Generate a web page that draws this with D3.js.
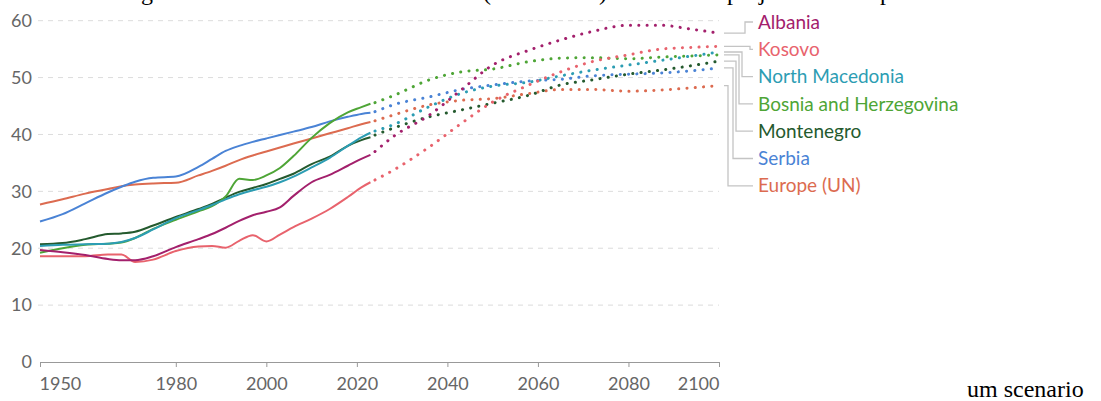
<!DOCTYPE html>
<html><head><meta charset="utf-8">
<script src="https://cdn.jsdelivr.net/npm/d3@7"></script>
<style>
html,body{margin:0;padding:0;background:#fff;}
svg{display:block;}
</style></head>
<body>
<svg id="chart" width="1101" height="401"></svg>
<script>
// ---------- DATA ----------
const seriesNames = ["Albania","Kosovo","North Macedonia","Bosnia and Herzegovina","Montenegro","Serbia","Europe (UN)"];
const histYears = [1950,1955,1960,1965,1968,1971,1975,1980,1985,1988,1991,1994,1997,2000,2003,2006,2010,2014,2018,2021,2023];
const projYears = [2024,2028,2036,2043,2050,2058,2065,2072,2080,2087,2094,2100];

const albaniaHist    = [19.7,19.3,18.8,18.1,17.9,17.9,18.6,20.2,21.6,22.5,23.6,24.8,25.8,26.4,27.2,29.2,31.6,32.9,34.5,35.7,36.4];
const kosovoHist     = [18.6,18.6,18.6,18.9,18.9,17.6,18.0,19.5,20.3,20.4,20.1,21.3,22.3,21.2,22.4,23.7,25.2,26.9,29.0,30.7,31.6];
const macedoniaHist  = [20.4,20.6,20.7,20.8,21.1,21.8,23.3,25.3,26.7,27.6,28.6,29.5,30.2,30.8,31.6,32.6,34.2,35.9,38.0,39.5,40.3];
const bosniaHist     = [19.2,20.0,20.6,20.8,21.0,21.8,23.4,25.0,26.5,27.4,29.1,32.2,32.0,32.8,34.1,36.2,39.4,42.0,43.9,44.8,45.4];
const montenegroHist = [20.7,20.9,21.6,22.5,22.6,22.9,24.0,25.5,26.9,27.8,28.9,29.9,30.6,31.3,32.2,33.1,34.8,36.1,38.0,39.0,39.5];
const serbiaHist     = [24.7,26.0,27.9,29.8,30.8,31.7,32.4,32.6,34.3,35.7,37.1,38.0,38.7,39.3,39.9,40.5,41.3,42.3,43.1,43.6,43.8];
const europeHist     = [27.7,28.6,29.6,30.4,30.9,31.2,31.4,31.5,32.8,33.6,34.5,35.5,36.3,37.0,37.7,38.4,39.3,40.2,41.1,41.8,42.2];

const albaniaProj    = [37.0,39.6,43.4,47.8,52.2,54.8,56.6,58.1,59.2,59.2,58.5,57.8];
const kosovoProj     = [32.0,33.7,37.8,41.9,45.7,48.7,51.0,52.8,54.0,55.0,55.3,55.5];
const macedoniaProj  = [40.6,41.7,44.9,47.2,48.5,49.2,50.3,51.3,52.2,53.0,53.8,54.5];
const bosniaProj     = [45.6,46.8,49.6,51.0,51.5,52.8,53.4,53.5,53.3,53.6,53.8,54.0];
const montenegroProj = [39.9,41.1,43.1,44.3,45.5,46.9,48.7,49.6,50.6,51.3,52.1,52.9];
const serbiaProj     = [44.0,45.2,46.6,47.9,48.7,49.4,49.7,50.3,50.6,50.8,51.2,51.7];
const europeProj     = [42.4,43.4,45.2,46.0,46.3,47.2,47.9,47.9,47.6,47.8,48.2,48.6];

const yTicks = [0,10,20,30,40,50,60];
const xTicks = [1950,1980,2000,2020,2040,2060,2080,2100];

const colors = ["#a3206c","#e8636d","#2c9db3","#4ea536","#245a2e","#4a83d5","#dc6b50"];

const hist = [albaniaHist,kosovoHist,macedoniaHist,bosniaHist,montenegroHist,serbiaHist,europeHist];
const proj = [albaniaProj,kosovoProj,macedoniaProj,bosniaProj,montenegroProj,serbiaProj,europeProj];

// ---------- CHART ----------
const svg = d3.select("#chart");
const x = d3.scaleLinear().domain([1950,2100]).range([40,719]);
const y = d3.scaleLinear().domain([0,60]).range([362,20.7]);
const font = "Lato, 'Noto Sans', sans-serif";

// caption fragments (cut off at top, as in the source)
const cap = svg.append("text").attr("y",0).attr("font-family","'Liberation Serif','Times New Roman',serif")
  .attr("font-size",24).attr("fill","#000");
cap.append("tspan").attr("x",51).text("Median age in the Western Balkans");
cap.append("tspan").attr("x",483).text("(1950–2100)");
cap.append("tspan").attr("x",727).text("projections");
cap.append("tspan").attr("x",868).text("up to 2100 in the medi-");

// gridlines
svg.append("g").selectAll("line").data(yTicks.filter(d=>d>0)).join("line")
  .attr("x1",38).attr("x2",719).attr("y1",d=>y(d)).attr("y2",d=>y(d))
  .attr("stroke","#dcdcdc").attr("stroke-width",1).attr("stroke-dasharray","5,5");

// y labels
svg.append("g").selectAll("text").data(yTicks).join("text")
  .attr("x",32).attr("y",d=>y(d)).attr("dy","0.35em").attr("text-anchor","end")
  .attr("font-family",font).attr("font-size",18).attr("fill","#666").text(d=>d);

// x axis
const xAxis = d3.axisBottom(x).tickValues(xTicks).tickFormat(d3.format("d")).tickSize(5).tickSizeOuter(0);
const gx = svg.append("g").attr("transform",`translate(0,${y(0)})`).call(xAxis);
gx.select(".domain").attr("stroke","#999");
gx.selectAll(".tick line").attr("stroke","#999");
gx.selectAll(".tick text").attr("font-family",font).attr("font-size",18).attr("fill","#666").attr("dy","1.1em")
  .attr("text-anchor",d=>d===1950?"start":(d===2100?"end":"middle"))
  .attr("dx",d=>d===1950?-1:0);

const line = d3.line().x(d=>x(d[0])).y(d=>y(d[1])).curve(d3.curveMonotoneX);

const order = [6,5,4,3,2,1,0];
order.forEach(i=>{
  const h = histYears.map((yr,k)=>[yr,hist[i][k]]);
  const p = projYears.map((yr,k)=>[yr,proj[i][k]]);
  svg.append("path").attr("d",line(h)).attr("fill","none").attr("stroke",colors[i])
    .attr("stroke-width",2).attr("stroke-linejoin","round");
  svg.append("path").attr("d",line(p)).attr("fill","none").attr("stroke",colors[i])
    .attr("stroke-width",3).attr("stroke-linecap","round").attr("stroke-dasharray","0.1,8.2");
});

// legend with leader lines
const labelY0 = 22, labelStep = 27.3;
const bendX = [745,750,742,739,736,733,728];
seriesNames.forEach((name,i)=>{
  const ly = labelY0 + i*labelStep;
  const ey = y(proj[i][proj[i].length-1]);
  const sx = x(2100)+5;
  svg.append("path").attr("d",`M${sx},${ey}H${bendX[i]}V${ly}H753`)
    .attr("fill","none").attr("stroke","#c4c4c4").attr("stroke-width",1.3);
  svg.append("text").attr("x",758).attr("y",ly).attr("dy","0.35em")
    .attr("font-family",font).attr("font-size",19).attr("fill",colors[i]).text(name);
});

// trailing caption text
svg.append("text").attr("x",967).attr("y",397).attr("font-family","'Liberation Serif','Times New Roman',serif")
  .attr("font-size",24).attr("fill","#000").text("um scenario");
</script>
</body></html>
